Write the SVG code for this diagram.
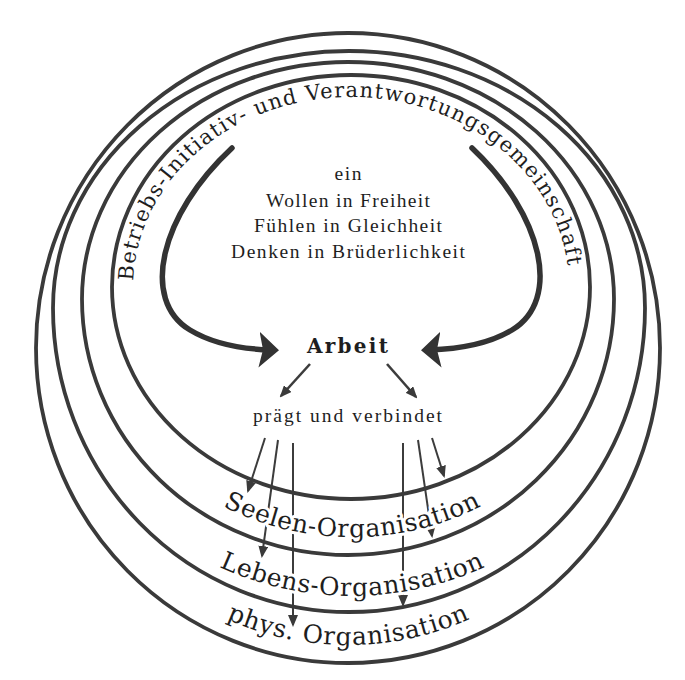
<svg xmlns="http://www.w3.org/2000/svg" width="685" height="680" viewBox="0 0 685 680">
<style>
.ring{fill:none;stroke:#3a3a3a;stroke-width:3.8}
.big{fill:none;stroke:#333;stroke-width:5.5;stroke-linecap:round}
.thin{fill:none;stroke:#3c3c3c;stroke-width:2}
.diag{fill:none;stroke:#3c3c3c;stroke-width:2.6}
.ctr{font-family:"Liberation Serif","Times New Roman",serif;font-size:19.5px;fill:#1e1e1e;text-anchor:middle}
.arc{font-family:"DejaVu Serif","Liberation Serif",serif;fill:#1e1e1e}
.halo{stroke:#fff;stroke-width:6;stroke-linejoin:round;paint-order:stroke}
.arb{font-family:"DejaVu Serif","Liberation Serif",serif;font-weight:bold;font-size:20px;fill:#1e1e1e;text-anchor:middle}
</style>
<defs>
<marker id="ah" markerUnits="userSpaceOnUse" viewBox="0 0 12 10" markerWidth="12" markerHeight="10" refX="10" refY="5" orient="auto"><path d="M0,0 L12,5 L0,10 Z" fill="#3a3a3a"/></marker>
<marker id="bigah" markerUnits="userSpaceOnUse" viewBox="0 0 20 36" markerWidth="20" markerHeight="36" refX="12" refY="18" orient="auto"><path d="M0,0 L20,18 L0,36 L4,18 Z" fill="#333"/></marker>
<path id="arcTop" d="M 133,287 A 218 190 0 0 1 569,287"/>
<path id="arcSeelen" d="M 120,417 A 284 284 0 0 0 584,417"/>
<path id="arcLebens" d="M 102,475 A 319 319 0 0 0 602,475"/>
<path id="arcPhys" d="M 108,523 A 297 297 0 0 0 588,523"/>
</defs>
<rect width="685" height="680" fill="#fff"/>

<g id="connectors">
<path class="big" d="M 232,148 C 160,215 140,300 190,330 C 213,344 240,349 271,350" marker-end="url(#bigah)"/>
<path class="big" d="M 472,148 C 543,215 562,300 512,330 C 489,344 460,349 429,350" marker-end="url(#bigah)"/>
<path class="diag" d="M310,364 L281,396" marker-end="url(#ah)"/>
<path class="diag" d="M387,364 L416,397" marker-end="url(#ah)"/>
<path class="thin" d="M265,438 L248,491" marker-end="url(#ah)"/>
<path class="thin" d="M278,440 L262,556" marker-end="url(#ah)"/>
<path class="thin" d="M293,443 L293,625" marker-end="url(#ah)"/>
<path class="thin" d="M403,443 L403,605" marker-end="url(#ah)"/>
<path class="thin" d="M418,440 L432,536" marker-end="url(#ah)"/>
<path class="thin" d="M432,438 L444,476" marker-end="url(#ah)"/>
</g>

<g id="center-text">
<text class="ctr" x="348" y="180" textLength="27">ein</text>
<text class="ctr" x="348" y="207" textLength="164">Wollen in Freiheit</text>
<text class="ctr" x="348" y="232" textLength="188">Fühlen in Gleichheit</text>
<text class="ctr" x="348" y="258" textLength="234">Denken in Brüderlichkeit</text>
</g>
<g id="arbeit"><text class="arb" x="347.5" y="353" textLength="81">Arbeit</text></g>
<g id="praegt"><text class="ctr" x="347.5" y="422" textLength="189">prägt und verbindet</text></g>

<g id="label-seelen"><text class="arc halo" font-size="25"><textPath href="#arcSeelen" startOffset="137.5" textLength="268" lengthAdjust="spacing">Seelen-Organisation</textPath></text></g>
<g id="label-lebens"><text class="arc halo" font-size="25"><textPath href="#arcLebens" startOffset="150.3" textLength="274" lengthAdjust="spacing">Lebens-Organisation</textPath></text></g>
<g id="label-phys"><text class="arc halo" font-size="25"><textPath href="#arcPhys" startOffset="153.9" textLength="251" lengthAdjust="spacing">phys. Organisation</textPath></text></g>

<g id="ring-gemeinschaft">
<ellipse class="ring" cx="351" cy="287" rx="239" ry="212"/>
<text class="arc" font-size="21"><textPath href="#arcTop" startOffset="6" textLength="614" lengthAdjust="spacing">Betriebs-Initiativ- und Verantwortungsgemeinschaft</textPath></text>
</g>
<g id="ring-seele"><path class="ring" d="M 82,299 A 266 237 0 0 1 614,299 A 266 256 0 0 1 82,299 Z"/></g>
<g id="ring-leben"><path class="ring" d="M 53,308 A 296 257 0 0 1 645,308 A 296 304 0 0 1 53,308 Z"/></g>
<g id="ring-phys"><ellipse class="ring" cx="348" cy="348" rx="312" ry="315"/></g>
</svg>
